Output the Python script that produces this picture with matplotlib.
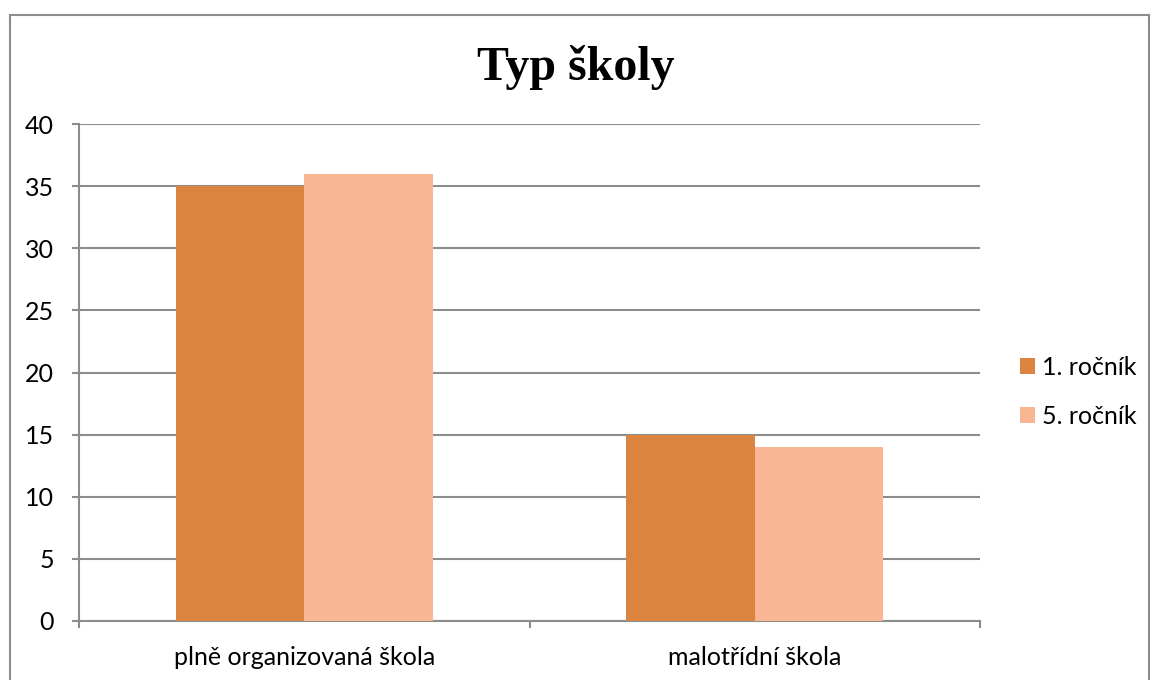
import matplotlib
matplotlib.use("Agg")
import matplotlib.pyplot as plt
import numpy as np
from matplotlib.patches import Rectangle

categories = ["plně organizovaná škola", "malotřídní škola"]
series_names = ["1. ročník", "5. ročník"]
values_1 = [35, 15]
values_5 = [36, 14]
yticks = [0, 5, 10, 15, 20, 25, 30, 35, 40]
title = "Typ školy"

colors = ["#DA843F", "#F8B692"]
grid_c = "#8C8C8C"
font = "Lato"
fs = 18

fig = plt.figure(figsize=(11.51, 6.8), dpi=100)
W, H = 1151, 680
ax = fig.add_axes([79 / W, 1 - 621 / H, (980 - 79) / W, (621 - 124) / H])

x = np.arange(len(categories))
bw = 0.285
ax.bar(x - bw / 2, values_1, bw, color=colors[0], label=series_names[0], zorder=3)
ax.bar(x + bw / 2, values_5, bw, color=colors[1], label=series_names[1], zorder=3)

ax.set_xlim(-0.5, len(categories) - 0.5)
ax.set_ylim(0, 40)
ax.set_yticks(yticks)
ax.set_yticklabels([str(v) for v in yticks], fontfamily=font, fontsize=fs)
ax.yaxis.grid(True, color=grid_c, linewidth=1.5, zorder=0)
ax.set_axisbelow(True)
for s in ["top", "right"]:
    ax.spines[s].set_visible(False)
for s in ["left", "bottom"]:
    ax.spines[s].set_color(grid_c)
    ax.spines[s].set_linewidth(1.5)
ax.tick_params(axis="y", length=5, width=1.5, color=grid_c, pad=13)

ax.set_xticks(x)
ax.set_xticklabels(categories, fontfamily=font, fontsize=fs)
ax.tick_params(axis="x", length=0, pad=18)
ax.set_xticks([-0.5, 0.5, 1.5], minor=True)
ax.tick_params(axis="x", which="minor", length=5, width=1.5, color=grid_c)

fig.text(0.5, 1 - 68 / H, title, ha="center", va="center",
         fontfamily="Liberation Serif", fontweight="bold", fontsize=34.5)

leg = ax.legend(loc="center left", bbox_to_anchor=(997 / W, 1 - 392 / H),
                bbox_transform=fig.transFigure, frameon=False,
                prop={"family": font, "size": fs}, handlelength=0.62,
                handleheight=0.62, handletextpad=0.3, labelspacing=1.05)

fig.patches.append(Rectangle((10 / W, -0.1), (1149 - 10) / W, 1.1 - 15 / H,
                             transform=fig.transFigure, fill=False,
                             edgecolor=grid_c, linewidth=1.5))

fig.savefig("out.png", dpi=100)
